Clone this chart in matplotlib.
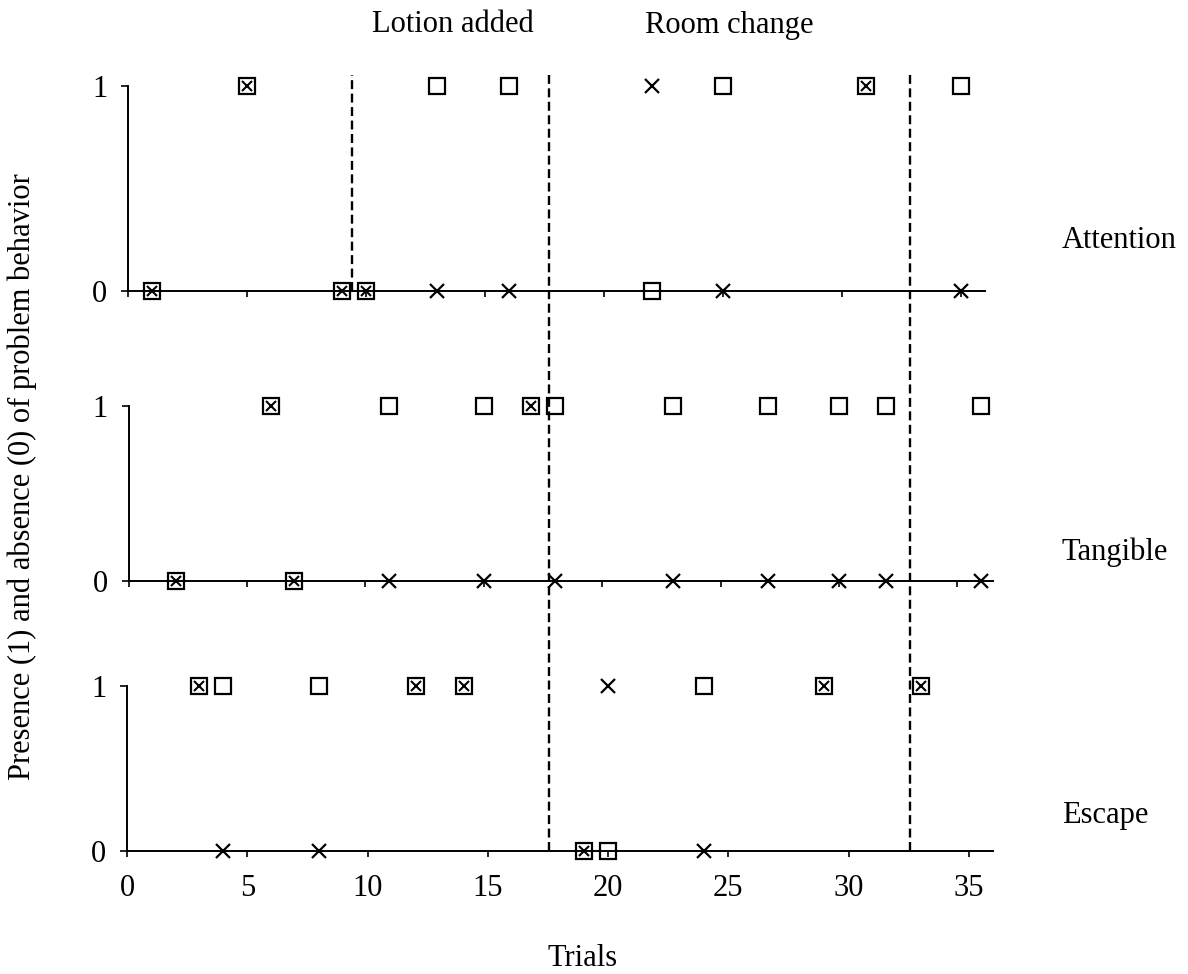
import matplotlib
matplotlib.use('Agg')
import matplotlib.pyplot as plt
from matplotlib.lines import Line2D
from matplotlib.transforms import blended_transform_factory


# -------------------------------------------------------------------------
# Data (square = one measure, cross = the other; both at same spot = ⊠)
# -------------------------------------------------------------------------
conditions = ['Attention', 'Tangible', 'Escape']

attention_trials = [1, 5, 9, 10, 13, 16, 22, 25, 31, 35]
attention_square = [0, 1, 0, 0, 1, 1, 0, 1, 1, 1]
attention_cross = [0, 1, 0, 0, 0, 0, 1, 0, 1, 0]

tangible_trials = [2, 6, 7, 11, 15, 17, 18, 23, 27, 30, 32, 36]
tangible_square = [0, 1, 0, 1, 1, 1, 1, 1, 1, 1, 1, 1]
tangible_cross = [0, 1, 0, 0, 0, 1, 0, 0, 0, 0, 0, 0]

escape_trials = [3, 4, 8, 12, 14, 19, 20, 24, 29, 33]
escape_square = [1, 1, 1, 1, 1, 0, 0, 1, 1, 1]
escape_cross = [1, 0, 0, 1, 1, 0, 1, 0, 1, 1]

phase_labels = ['Lotion added', 'Room change']
lotion_line = 9.4          # drawn in the Attention panel only
phase_lines = [17.55, 32.55]  # span all panels

x_ticks = [0, 5, 10, 15, 20, 25, 30, 35]
y_ticks = [0, 1]


def main():
  plt.rcParams['font.family'] = ['Liberation Serif', 'DejaVu Serif']
  plt.rcParams['font.size'] = 22

  W, H = 1188, 974
  fig = plt.figure(figsize=(W / 100, H / 100), dpi=100, facecolor='white')

  def px_axes(left, right, y0, y1):
    return fig.add_axes([left / W, (H - y0) / H, (right - left) / W, (y0 - y1) / H])

  # panel placement in pixels: left, right, y of 0, y of 1, x max
  panels = [
    (128, 128 + 36.0 * 23.8, 291, 86, 36.0),
    (128.6, 128.6 + 36.5 * 23.68, 581, 406, 36.5),
    (127, 127 + 36.0 * 24.05, 851, 686, 36.0),
  ]
  series = [
    (attention_trials, attention_square, attention_cross),
    (tangible_trials, tangible_square, tangible_cross),
    (escape_trials, escape_square, escape_cross),
  ]
  label_y = [241, 552, 816]

  axes = []
  for i, ((l, r, y0, y1, xmax), (t, sq, cr)) in enumerate(zip(panels, series)):
    ax = px_axes(l, r, y0, y1)
    ax.set_xlim(0, xmax)
    ax.set_ylim(0, 1)
    for side in ['top', 'right']:
      ax.spines[side].set_visible(False)
    for side in ['left', 'bottom']:
      ax.spines[side].set_linewidth(1.4)
    ax.set_xticks(x_ticks)
    ax.set_yticks(y_ticks)
    ax.tick_params(axis='y', direction='out', length=5, width=1.2, pad=10)
    ax.tick_params(axis='x', direction='out', length=4.5, width=1.2, pad=12)
    if i < 2:
      ax.set_xticklabels([])

    ax.plot(t, sq, linestyle='none', marker='s', markersize=11.5,
            markerfacecolor='none', markeredgecolor='black',
            markeredgewidth=1.6, clip_on=False, zorder=4)
    tx_big = [x for x, a, b in zip(t, sq, cr) if a != b]
    cy_big = [b for x, a, b in zip(t, sq, cr) if a != b]
    tx_small = [x for x, a, b in zip(t, sq, cr) if a == b]
    cy_small = [b for x, a, b in zip(t, sq, cr) if a == b]
    ax.plot(tx_big, cy_big, linestyle='none', marker='x', markersize=10,
            color='black', markeredgewidth=1.6, clip_on=False, zorder=5)
    ax.plot(tx_small, cy_small, linestyle='none', marker='x', markersize=7,
            color='black', markeredgewidth=1.5, clip_on=False, zorder=5)

    fig.text(1062 / W, (H - label_y[i]) / H, conditions[i], ha='left', va='center')
    axes.append(ax)

  # Phase change lines
  dash = (0, (3.8, 1.9))
  axes[0].axvline(lotion_line, ymin=0, ymax=1 + 11 / 205, color='black',
                  linestyle=dash, linewidth=1.7, clip_on=False, zorder=3)
  trans = blended_transform_factory(axes[2].transData, fig.transFigure)
  for xv in phase_lines:
    fig.add_artist(Line2D([xv, xv], [(H - 851) / H, (H - 75) / H], transform=trans,
                          color='black', linestyle=dash, linewidth=1.7, zorder=3))

  fig.text(453 / W, (H - 25) / H, phase_labels[0], ha='center', va='center')
  fig.text(729 / W, (H - 25) / H, phase_labels[1], ha='center', va='center')

  fig.text(22 / W, (H - 477) / H, 'Presence (1) and absence (0) of problem behavior',
           rotation=90, ha='center', va='center')
  fig.text(583 / W, (H - 958) / H, 'Trials', ha='center', va='center')

  fig.savefig('out.png', dpi=100)


if __name__ == "__main__":
  main()
